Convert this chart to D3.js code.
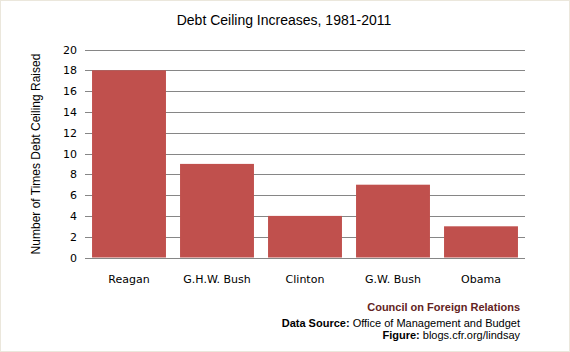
<!DOCTYPE html>
<html>
  <head>
    <meta charset="utf-8" />
    <title>Debt Ceiling Increases, 1981-2011</title>
    <script src="https://d3js.org/d3.v7.min.js"></script>
    <style>
      body { margin: 0; background: #fff; }
      .tick text { font: 11px "DejaVu Sans", Verdana, sans-serif; fill: #000; }
    </style>
  </head>
  <body>
    <svg width="570" height="352"></svg>
    <script>
      // Data
      const presidents = ["Reagan", "G.H.W. Bush", "Clinton", "G.W. Bush", "Obama"];
      const increases = [18, 9, 4, 7, 3];
      const yTicks = [0, 2, 4, 6, 8, 10, 12, 14, 16, 18, 20];

      const svg = d3.select("svg"),
            width = +svg.attr("width"),
            height = +svg.attr("height");

      const margin = {top: 49.5, right: 45, bottom: 94.5, left: 85};

      // outer frame
      svg.append("rect")
         .attr("x", 0.5).attr("y", 0.5)
         .attr("width", width - 1).attr("height", height - 1)
         .attr("fill", "#fff")
         .attr("stroke", "#ebe7dc");

      const x = d3.scaleBand()
                  .domain(presidents)
                  .range([margin.left, width - margin.right])
                  .paddingInner(0.16)
                  .paddingOuter(0.08);

      const y = d3.scaleLinear()
                  .domain([0, 20])
                  .range([height - margin.bottom, margin.top]);

      // gridlines
      svg.append("g")
         .selectAll("line")
         .data(yTicks.slice(1))
         .enter().append("line")
         .attr("x1", margin.left)
         .attr("x2", width - margin.right)
         .attr("y1", d => Math.round(y(d)) + 0.5)
         .attr("y2", d => Math.round(y(d)) + 0.5)
         .attr("stroke", "#868686");

      // bars
      svg.append("g")
         .selectAll("rect")
         .data(increases)
         .enter().append("rect")
         .attr("x", (d, i) => x(presidents[i]))
         .attr("width", x.bandwidth())
         .attr("y", d => y(d))
         .attr("height", d => y(0) - y(d))
         .attr("fill", "#c0504d");

      // y axis labels (no axis line)
      const yAxis = svg.append("g")
         .attr("transform", "translate(" + margin.left + ",0)")
         .call(d3.axisLeft(y).tickValues(yTicks).tickSize(0).tickPadding(8));
      yAxis.select(".domain").remove();

      // x axis
      const xAxis = svg.append("g")
         .attr("transform", "translate(0," + (Math.round(y(0)) + 0.5) + ")")
         .call(d3.axisBottom(x).tickSize(0).tickPadding(17));
      xAxis.select(".domain")
           .attr("stroke", "#868686")
           .attr("d", "M" + margin.left + ",0H" + (width - margin.right));

      // title
      svg.append("text")
         .attr("x", 284)
         .attr("y", 25)
         .attr("text-anchor", "middle")
         .style("font", "14px 'Liberation Sans', Arial, sans-serif")
         .text("Debt Ceiling Increases, 1981-2011");

      // y axis title
      svg.append("text")
         .attr("transform", "translate(40,154) rotate(-90)")
         .attr("text-anchor", "middle")
         .style("font", "12px 'Liberation Sans', Arial, sans-serif")
         .text("Number of Times Debt Ceiling Raised");

      // credits
      const credits = svg.append("g")
         .attr("text-anchor", "end")
         .style("font", "11px 'Liberation Sans', Arial, sans-serif");

      credits.append("text")
         .attr("x", 520).attr("y", 311)
         .attr("fill", "#632423")
         .style("font-weight", "bold")
         .text("Council on Foreign Relations");

      const src = credits.append("text").attr("x", 520).attr("y", 327);
      src.append("tspan").style("font-weight", "bold").text("Data Source: ");
      src.append("tspan").text("Office of Management and Budget");

      const fig = credits.append("text").attr("x", 520).attr("y", 339);
      fig.append("tspan").style("font-weight", "bold").text("Figure: ");
      fig.append("tspan").text("blogs.cfr.org/lindsay");
    </script>
  </body>
</html>
